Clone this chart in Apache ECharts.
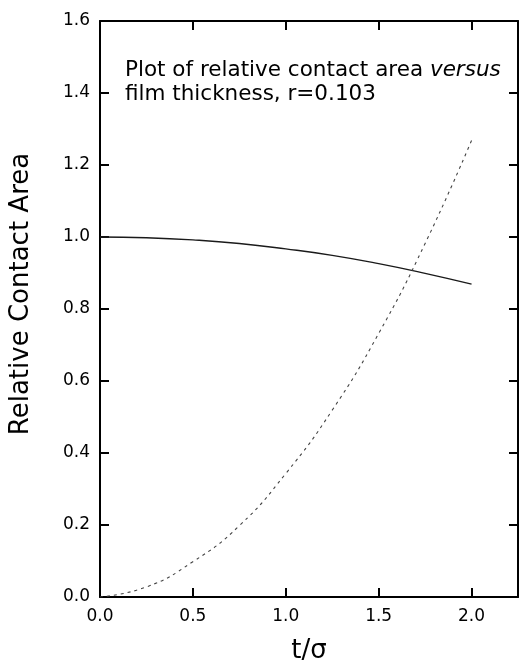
<!DOCTYPE html>
<html>
<head>
<meta charset="utf-8">
<script src="https://cdn.jsdelivr.net/npm/echarts@6/dist/echarts.min.js"></script>
<style>
  html, body { margin: 0; padding: 0; background: #fff; }
  #chart { width: 519px; height: 667px; }
</style>
</head>
<body>
<div id="chart"></div>
<script>
// Film thickness t/sigma sample points
const thickness = [0, 0.25, 0.5, 0.75, 1.0, 1.25, 1.5, 1.75, 2.0];
// Relative contact area (solid curve)
const contactArea = [1.000, 0.998, 0.992, 0.982, 0.967, 0.949, 0.926, 0.899, 0.869];
// Second curve (dashed)
const dashedCurve = [0.000, 0.028, 0.098, 0.198, 0.343, 0.519, 0.732, 0.982, 1.268];

const xTicks = [0, 0.5, 1.0, 1.5, 2.0];
const yTicks = [0, 0.2, 0.4, 0.6, 0.8, 1.0, 1.2, 1.4, 1.6];

const FONT = '"DejaVu Sans", "Liberation Sans", Arial, sans-serif';

const pairs = (xs, ys) => xs.map((x, i) => [x, ys[i]]);

const chart = echarts.init(document.getElementById('chart'), null, { renderer: 'canvas' });

const frameLine = { show: true, onZero: false, lineStyle: { color: '#000', width: 2 } };
const innerTick = { show: true, inside: true, length: 9, lineStyle: { color: '#000', width: 2 } };

chart.setOption({
  animation: false,
  backgroundColor: '#fff',
  grid: { left: 100, top: 21, right: 1, bottom: 70, containLabel: false, outerBoundsMode: 'none' },
  xAxis: [
    {
      type: 'value', position: 'bottom',
      min: xTicks[0], max: 2.25, interval: 0.5,
      axisLine: frameLine, axisTick: innerTick, splitLine: { show: false },
      axisLabel: {
        show: true, showMaxLabel: false, margin: 11,
        color: '#000', fontFamily: FONT, fontSize: 17,
        formatter: v => v.toFixed(1)
      },
      name: 't/σ', nameLocation: 'middle', nameGap: 41,
      nameTextStyle: { color: '#000', fontFamily: FONT, fontSize: 26 }
    },
    {
      type: 'value', position: 'top',
      min: xTicks[0], max: 2.25, interval: 0.5,
      axisLine: frameLine, axisTick: innerTick,
      axisLabel: { show: false }, splitLine: { show: false }
    }
  ],
  yAxis: [
    {
      type: 'value', position: 'left',
      min: yTicks[0], max: yTicks[yTicks.length - 1], interval: 0.2,
      axisLine: frameLine, axisTick: innerTick, splitLine: { show: false },
      axisLabel: {
        show: true, margin: 10,
        color: '#000', fontFamily: FONT, fontSize: 17,
        formatter: v => v.toFixed(1)
      },
      name: 'Relative Contact Area', nameLocation: 'middle', nameGap: 66,
      nameTextStyle: { color: '#000', fontFamily: FONT, fontSize: 26, padding: [0, 0, 0, 30] }
    },
    {
      type: 'value', position: 'right',
      min: yTicks[0], max: yTicks[yTicks.length - 1], interval: 0.2,
      axisLine: frameLine, axisTick: innerTick,
      axisLabel: { show: false }, splitLine: { show: false }
    }
  ],
  series: [
    {
      name: 'Relative Contact Area',
      type: 'line',
      data: pairs(thickness, contactArea),
      smooth: true,
      showSymbol: false,
      lineStyle: { color: '#1a1a1a', width: 1.4, type: 'solid' }
    },
    {
      name: 'dashed',
      type: 'line',
      data: pairs(thickness, dashedCurve),
      smooth: true,
      showSymbol: false,
      lineStyle: { color: '#444', width: 1.1, type: [3, 4] }
    }
  ],
  graphic: [
    {
      type: 'text',
      left: 125, top: 59,
      style: {
        text: '{n|Plot of relative contact area }{i|versus}\n{n|film thickness, r=0.103}',
        rich: {
          n: { fontFamily: FONT, fontSize: 21.5, fill: '#000', lineHeight: 24 },
          i: { fontFamily: FONT, fontSize: 21.5, fontStyle: 'italic', fill: '#000', lineHeight: 24 }
        }
      }
    }
  ]
});
</script>
</body>
</html>
